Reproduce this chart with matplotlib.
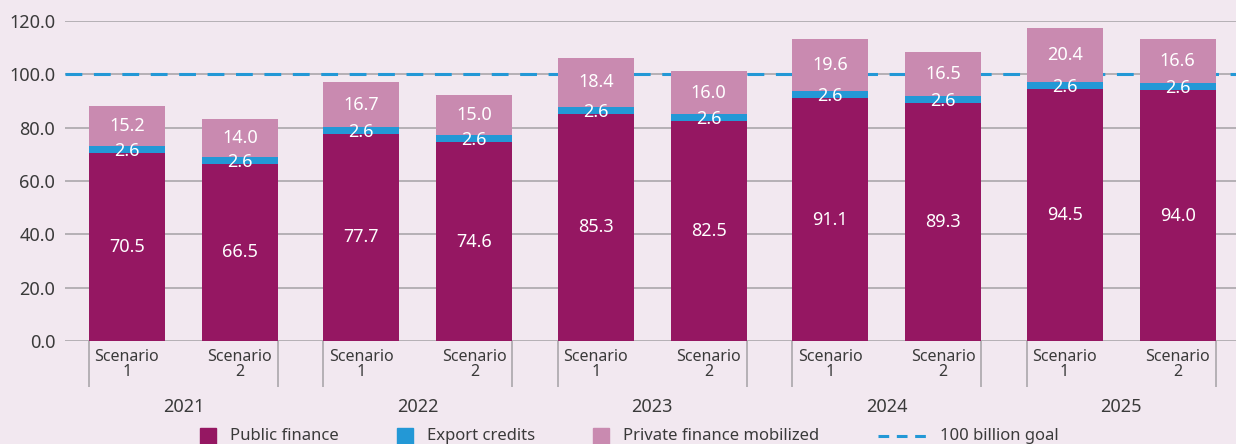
import matplotlib
matplotlib.use("Agg")
import matplotlib.pyplot as plt
import matplotlib.patches as mpatches
from matplotlib.lines import Line2D
import numpy as np

# values (billion USD)
years = ["2021", "2022", "2023", "2024", "2025"]
scenarios = ["Scenario\n1", "Scenario\n2"]
public_finance = [70.5, 66.5, 77.7, 74.6, 85.3, 82.5, 91.1, 89.3, 94.5, 94.0]
export_credits = [2.6, 2.6, 2.6, 2.6, 2.6, 2.6, 2.6, 2.6, 2.6, 2.6]
private_finance = [15.2, 14.0, 16.7, 15.0, 18.4, 16.0, 19.6, 16.5, 20.4, 16.6]
goal = 100.0
yticks = [0, 20, 40, 60, 80, 100, 120]

BG = "#F2E8F0"
C_PUB = "#951762"
C_EXP = "#2398D6"
C_PRIV = "#C98AB0"
GRID = "#ABA7AB"
TXT = "#3A3A3A"
FONT = "Noto Sans"

plt.rcParams["font.family"] = [FONT, "DejaVu Sans"]

fig = plt.figure(figsize=(12.36, 4.44), dpi=100)
fig.patch.set_facecolor(BG)
ax = fig.add_axes([65 / 1236, 103 / 444, 1 - 65 / 1236, 320 / 444])
ax.set_facecolor(BG)

offset = 0.241
width = 0.324
xs = []
for g in range(len(years)):
    xs += [g - offset, g + offset]
xs = np.array(xs)
pub = np.array(public_finance)
exp = np.array(export_credits)
priv = np.array(private_finance)

ax.bar(xs, pub, width, color=C_PUB, zorder=3)
ax.bar(xs, exp, width, bottom=pub, color=C_EXP, zorder=3)
ax.bar(xs, priv, width, bottom=pub + exp, color=C_PRIV, zorder=3)

for x, p, e, v in zip(xs, pub, exp, priv):
    ax.text(x, p / 2, f"{p:.1f}", ha="center", va="center", color="white",
            fontsize=13, zorder=5)
    ax.text(x, p + e / 2 - 0.6, f"{e:.1f}", ha="center", va="center",
            color="white", fontsize=13, zorder=5)
    ax.text(x, p + e + v / 2, f"{v:.1f}", ha="center", va="center",
            color="white", fontsize=13, zorder=5)

# goal line sits behind the bars
ax.axhline(goal, color=C_EXP, lw=2.2, linestyle=(0, (5.5, 3.8)), zorder=2)

ax.set_ylim(0, 120)
ax.set_xlim(-0.505, 4.49)
ax.set_yticks(yticks)
ax.set_yticklabels([f"{v:.1f}" for v in yticks], fontsize=13, color=TXT)
ax.yaxis.grid(True, color=GRID, lw=1.2, zorder=0)
ax.tick_params(axis="y", length=0, pad=7)
for s in ax.spines.values():
    s.set_visible(False)

ax.set_xticks(xs)
ax.set_xticklabels(scenarios * len(years), fontsize=11.5, color=TXT,
                   linespacing=0.9)
ax.tick_params(axis="x", which="major", length=0, pad=6)
edges = []
for g in range(len(years)):
    edges += [g - offset - width / 2, g + offset + width / 2]
ax.set_xticks(edges, minor=True)
ax.tick_params(axis="x", which="minor", length=33, width=1.2, color=GRID)

for g, yr in enumerate(years):
    ax.text(g, -24.7, yr, ha="center", va="center", fontsize=13,
            color=TXT, fontweight="medium", clip_on=False)

# legend, laid out by hand to match the spacing in the reference
ly = 8 / 444
sq_w, sq_h = 16 / 1236, 16 / 444
items = [(200, C_PUB, "Public finance"), (397, C_EXP, "Export credits"),
         (593, C_PRIV, "Private finance mobilized")]
for px, col, lab in items:
    fig.patches.append(mpatches.Rectangle((px / 1236, ly - sq_h / 2), sq_w, sq_h,
                                          color=col, transform=fig.transFigure))
    fig.text((px + 30) / 1236, ly, lab, ha="left", va="center", fontsize=12,
             color=TXT)
fig.lines.append(Line2D([878 / 1236, 927 / 1236], [ly, ly], color=C_EXP, lw=2.2,
                        linestyle=(0, (3.5, 2.5)), transform=fig.transFigure))
fig.text(940 / 1236, ly, "100 billion goal", ha="left", va="center",
         fontsize=12, color=TXT)

fig.savefig("out.png", dpi=100, facecolor=BG)
